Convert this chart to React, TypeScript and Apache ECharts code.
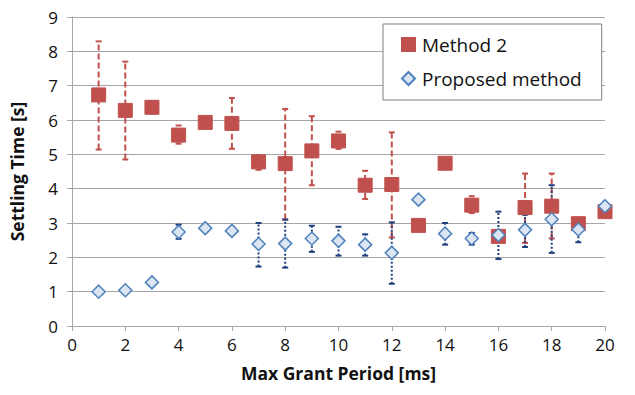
import React, { useEffect, useRef } from "react";
import * as echarts from "echarts";

const periods = [1, 2, 3, 4, 5, 6, 7, 8, 9, 10, 11, 12, 13, 14, 15, 16, 17, 18, 19, 20];

const method2 = [6.73, 6.28, 6.37, 5.56, 5.93, 5.9, 4.78, 4.73, 5.1, 5.39, 4.1, 4.12, 2.93, 4.74, 3.52, 2.61, 3.45, 3.49, 2.98, 3.33];
const method2Low = [5.14, 4.85, 6.25, 5.31, 5.85, 5.16, 4.55, 3.1, 4.1, 5.16, 3.7, 2.58, 2.93, 4.74, 3.29, 2.55, 2.42, 2.55, 2.9, 3.3];
const method2High = [8.29, 7.7, 6.5, 5.84, 6.02, 6.64, 4.98, 6.32, 6.11, 5.66, 4.52, 5.64, 2.93, 4.74, 3.78, 2.68, 4.44, 4.44, 3.06, 3.36];

const proposed = [1.0, 1.04, 1.27, 2.74, 2.85, 2.77, 2.39, 2.4, 2.55, 2.48, 2.37, 2.13, 3.68, 2.69, 2.55, 2.65, 2.8, 3.11, 2.81, 3.49];
const proposedLow = [1.0, 1.04, 1.27, 2.54, 2.85, 2.77, 1.73, 1.7, 2.16, 2.05, 2.05, 1.23, 3.6, 2.37, 2.37, 1.95, 2.3, 2.13, 2.44, 3.39];
const proposedHigh = [1.0, 1.04, 1.27, 2.95, 2.85, 2.77, 3.0, 3.1, 2.92, 2.89, 2.67, 3.02, 3.76, 3.0, 2.71, 3.33, 3.24, 4.1, 3.0, 3.59];

const xTicks = [0, 20, 2];
const yTicks = [0, 9, 1];

const FONT = "'Open Sans', 'Liberation Sans', sans-serif";

function errorSeries(name: string, low: number[], high: number[], color: string, dash: number[], width: number) {
  return {
    type: "custom",
    name: name + " err",
    silent: true,
    data: periods.map((p, i) => [p, low[i], high[i]]),
    renderItem: (params: any, api: any) => {
      const x = api.value(0);
      const lo = api.value(1);
      const hi = api.value(2);
      if (hi - lo < 0.001) return { type: "group", children: [] };
      const a = api.coord([x, lo]);
      const b = api.coord([x, hi]);
      const style = { stroke: color, lineWidth: width, lineDash: dash };
      const capStyle = { stroke: color, lineWidth: width };
      return {
        type: "group",
        children: [
          { type: "line", shape: { x1: a[0], y1: a[1], x2: b[0], y2: b[1] }, style },
          { type: "line", shape: { x1: a[0] - 3, y1: a[1], x2: a[0] + 3, y2: a[1] }, style: capStyle },
          { type: "line", shape: { x1: b[0] - 3, y1: b[1], x2: b[0] + 3, y2: b[1] }, style: capStyle },
        ],
      };
    },
    z: 2,
  };
}

export default function App() {
  const ref = useRef<HTMLDivElement>(null);
  useEffect(() => {
    if (!ref.current) return;
    const chart = echarts.init(ref.current, undefined, { renderer: "svg" });
    chart.setOption({
      animation: false,
      backgroundColor: "#ffffff",
      grid: { left: 69, right: 30, top: 17, bottom: 69 },
      legend: {
        left: 383,
        top: 24,
        orient: "vertical",
        data: [
          { name: "Method 2", icon: "rect" },
          { name: "Proposed method", icon: "diamond" },
        ],
        itemWidth: 13,
        itemHeight: 13,
        itemGap: 15,
        padding: [11, 20, 12, 18],
        borderColor: "#7f7f7f",
        borderWidth: 1,
        backgroundColor: "#ffffff",
        textStyle: { fontFamily: FONT, fontSize: 19, color: "#111", padding: [0, 0, 0, 2] },
      },
      xAxis: {
        type: "value",
        min: xTicks[0],
        max: xTicks[1],
        interval: xTicks[2],
        name: "Max Grant Period [ms]",
        nameLocation: "middle",
        nameGap: 38,
        nameTextStyle: { fontFamily: FONT, fontSize: 17.5, fontWeight: "bold", color: "#111" },
        axisLine: { show: true, lineStyle: { color: "#a6a6a6" } },
        axisTick: { show: true, length: 5, lineStyle: { color: "#a6a6a6" } },
        axisLabel: { fontFamily: FONT, fontSize: 17, color: "#111", margin: 10 },
        splitLine: { show: false },
      },
      yAxis: {
        type: "value",
        min: yTicks[0],
        max: yTicks[1],
        interval: yTicks[2],
        name: "Settling Time [s]",
        nameLocation: "middle",
        nameRotate: 90,
        nameGap: 46,
        nameTextStyle: { fontFamily: FONT, fontSize: 17.5, fontWeight: "bold", color: "#111" },
        axisLine: { show: true, lineStyle: { color: "#a6a6a6" } },
        axisTick: { show: true, length: 5, lineStyle: { color: "#a6a6a6" } },
        axisLabel: { fontFamily: FONT, fontSize: 17, color: "#111", margin: 14 },
        splitLine: { show: true, lineStyle: { color: "#a6a6a6", width: 1 } },
      },
      series: [
        errorSeries("Method 2", method2Low, method2High, "#c0504d", [6, 3], 2),
        {
          type: "scatter",
          name: "Method 2",
          data: periods.map((p, i) => [p, method2[i]]),
          symbol: "rect",
          symbolSize: 14,
          itemStyle: { color: "#c0504d", borderColor: "#c0504d", borderWidth: 1, opacity: 1 },
          z: 3,
        },
        errorSeries("Proposed method", proposedLow, proposedHigh, "#1f3f7f", [2, 2], 2),
        {
          type: "scatter",
          name: "Proposed method",
          data: periods.map((p, i) => [p, proposed[i]]),
          symbol: "diamond",
          symbolSize: 13,
          itemStyle: { color: "#dce6f2", borderColor: "#4f81bd", borderWidth: 1.5, opacity: 1 },
          z: 4,
        },
      ],
    });
    return () => chart.dispose();
  }, []);
  return <div ref={ref} style={{ width: 635, height: 395, margin: -8 }} />;
}
